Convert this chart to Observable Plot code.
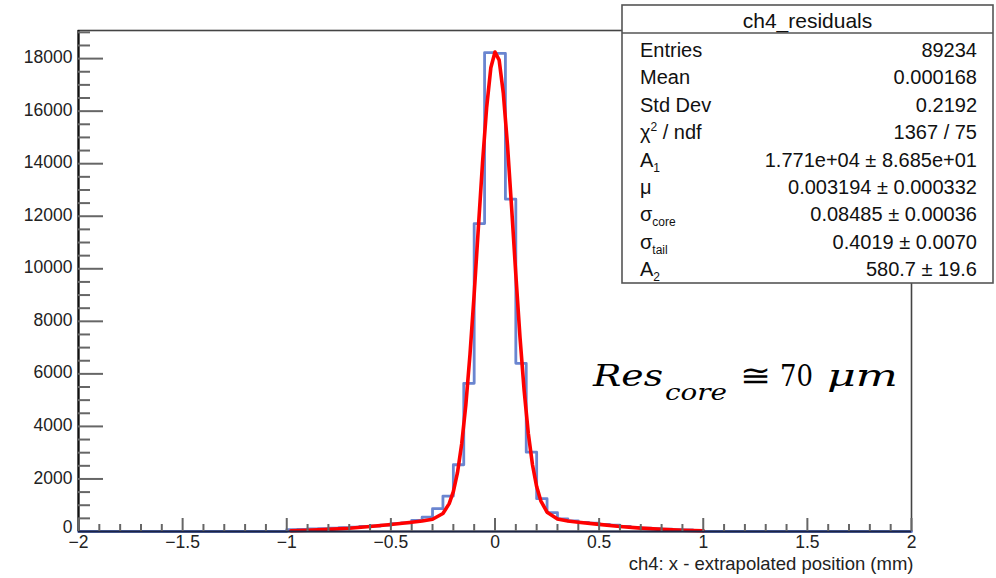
<!DOCTYPE html>
<html>
<head>
<meta charset="utf-8">
<script src="https://cdn.jsdelivr.net/npm/d3@7"></script>
<script src="https://cdn.jsdelivr.net/npm/@observablehq/plot@0.6"></script>
<style>
  html, body { margin: 0; padding: 0; background: #fff; }
  svg { display: block; }
</style>
</head>
<body>
<div id="chart"></div>
<script>
// ---- histogram: 80 bins of width 0.05 from -2 to 2 (contents)
const binLow = -2;
const binWidth = 0.05;
const histValues = [
  0,0,0,0,0,0,0,0,0,0,0,0,0,0,0,0,0,0,0,0,
  70,80,100,110,130,150,170,190,210,240,300,330,420,545,870,1350,2540,5640,11720,18230,
  18200,12650,6400,3020,1250,720,480,400,350,320,270,240,190,160,130,110,90,70,60,40,
  0,0,0,0,0,0,0,0,0,0,0,0,0,0,0,0,0,0,0,0
];

// ---- fitted curve points
const fitX = [-0.98,-0.9,-0.8,-0.7,-0.6,-0.5,-0.4,-0.35,-0.3,-0.25,-0.22,-0.2,-0.18,-0.16,-0.14,-0.12,-0.1,-0.08,-0.06,-0.04,-0.02,0,0.02,0.04,0.06,0.08,0.1,0.12,0.14,0.16,0.18,0.2,0.22,0.25,0.3,0.35,0.4,0.5,0.6,0.7,0.8,0.9,1.0];
const fitY = [30,47,80,125,190,265,350,400,465,685,1060,1520,2250,3330,4820,6750,9040,11550,14020,16150,17650,18250,17940,16680,14710,12300,9780,7400,5360,3730,2540,1710,1170,735,480,400,355,270,193,129,82,49,27];

// ---- axes
const xTickValues = [-2,-1.5,-1,-0.5,0,0.5,1,1.5,2];
const xTickLabels = ["−2","−1.5","−1","−0.5","0","0.5","1","1.5","2"];
const xMinorValues = [-1.9,-1.8,-1.7,-1.6,-1.4,-1.3,-1.2,-1.1,-0.9,-0.8,-0.7,-0.6,-0.4,-0.3,-0.2,-0.1,0.1,0.2,0.3,0.4,0.6,0.7,0.8,0.9,1.1,1.2,1.3,1.4,1.6,1.7,1.8,1.9];
const yTickValues = [0,2000,4000,6000,8000,10000,12000,14000,16000,18000];
const yTickLabels = ["0","2000","4000","6000","8000","10000","12000","14000","16000","18000"];
const yMinorValues = [500,1000,1500,2500,3000,3500,4500,5000,5500,6500,7000,7500,8500,9000,9500,10500,11000,11500,12500,13000,13500,14500,15000,15500,16500,17000,17500,18500,19000];
const xTitle = "ch4: x - extrapolated position (mm)";

// ---- stats box
const statsTitle = "ch4_residuals";
const statLabelMain = ["Entries","Mean","Std Dev","χ","A","μ","σ","σ","A"];
const statLabelSup  = ["","","","2","","","","",""];
const statLabelSub  = ["","","","","1","","core","tail","2"];
const statLabelTail = ["","",""," / ndf","","","","",""];
const statValues = ["89234","0.000168","0.2192","1367 / 75","1.771e+04 ± 8.685e+01","0.003194 ± 0.000332","0.08485 ± 0.00036","0.4019 ± 0.0070","580.7 ± 19.6"];

// ---- annotation
const annText = ["Res", "core", "≅", "70", "μm"];

// ---- build tables
const histPts = histValues.map((v, i) => ({x: binLow + i * binWidth, y: v}));
histPts.push({x: binLow + histValues.length * binWidth, y: histValues[histValues.length - 1]});
const fitPts = fitX.map((x, i) => ({x, y: fitY[i]}));

const W = 996, H = 578;
const mL = 78, mR = 85, mT = 30, mB = 47;
const fw = W - mL - mR, fh = H - mT - mB;
const sansFont = "'Liberation Sans', Arial, Helvetica, sans-serif";

const plot = Plot.plot({
  width: W, height: H,
  marginLeft: mL, marginRight: mR, marginTop: mT, marginBottom: mB,
  x: {domain: [-2, 2]},
  y: {domain: [0, 19070]},
  style: {fontFamily: sansFont, background: "white", color: "#222"},
  marks: [
    Plot.frame({stroke: "#444", strokeWidth: 1.6}),
    Plot.line(histPts, {x: "x", y: "y", curve: "step-after", stroke: "#5070c8", strokeWidth: 2.8, strokeOpacity: 0.85}),
    Plot.line(fitPts, {x: "x", y: "y", stroke: "#ff0000", strokeWidth: 3.6}),
    Plot.ruleX([-2], {stroke: "#111", strokeWidth: 2.2}),
    Plot.ruleY([0], {stroke: "#1c2444", strokeWidth: 2.2}),
    Plot.tickY(yTickValues.slice(1), {y: d => d, insetRight: fw - 25, stroke: "#666", strokeWidth: 2}),
    Plot.tickY(yMinorValues, {y: d => d, insetRight: fw - 12, stroke: "#666", strokeWidth: 2}),
    Plot.tickX(xTickValues, {x: d => d, insetTop: fh - 13, stroke: "#666", strokeWidth: 2}),
    Plot.tickX(xMinorValues, {x: d => d, insetTop: fh - 7, stroke: "#666", strokeWidth: 2}),
    Plot.axisY(yTickValues.slice(1), {tickSize: 0, tickPadding: 6, fontSize: 17.5, dy: -1, tickFormat: (d, i) => yTickLabels[i + 1], label: null, fill: "#222"}),
    Plot.axisY(yTickValues.slice(0, 1), {tickSize: 0, tickPadding: 6, fontSize: 17.5, dy: -4, tickFormat: () => yTickLabels[0], label: null, fill: "#222"}),
    Plot.axisX(xTickValues, {tickSize: 0, tickPadding: 4, fontSize: 17.5, tickFormat: (d, i) => xTickLabels[i], label: null, fill: "#222"}),
    Plot.text([xTitle], {frameAnchor: "bottom-right", text: d => d, dy: 38, dx: 2, textAnchor: "end", fontSize: 18.5, fill: "#222"})
  ]
});

document.getElementById("chart").appendChild(plot);

// ---- stats box overlay
const svg = d3.select(plot);
const g = svg.append("g").attr("font-family", sansFont).attr("fill", "#111").attr("text-anchor", "start");
const bx = 622, by = 5, bw = 371, bh = 278;
g.append("rect").attr("x", bx).attr("y", by).attr("width", bw).attr("height", bh)
  .attr("fill", "white").attr("stroke", "#555").attr("stroke-width", 1.6);
g.append("line").attr("x1", bx).attr("x2", bx + bw).attr("y1", 33).attr("y2", 33)
  .attr("stroke", "#555").attr("stroke-width", 1.6);
g.append("text").attr("x", bx + bw / 2).attr("y", 28).attr("text-anchor", "middle")
  .attr("font-size", 21).text(statsTitle);

const rowY0 = 50, rowStep = 27.4;
statLabelMain.forEach((lab, i) => {
  const cy = rowY0 + i * rowStep + 7;
  const t = g.append("text").attr("x", 640).attr("y", cy).attr("font-size", 20).attr("text-anchor", "start");
  t.append("tspan").text(lab);
  if (statLabelSup[i]) t.append("tspan").attr("font-size", 12).attr("dy", -8).text(statLabelSup[i]);
  if (statLabelSub[i]) t.append("tspan").attr("font-size", 12).attr("dy", 5).text(statLabelSub[i]);
  if (statLabelTail[i]) t.append("tspan").attr("dy", statLabelSup[i] ? 8 : 0).text(statLabelTail[i]);
  g.append("text").attr("x", 977).attr("y", cy).attr("text-anchor", "end").attr("font-size", 20).text(statValues[i]);
});

// ---- resolution annotation
const ann = svg.append("g").attr("font-family", "'DejaVu Serif', 'Liberation Serif', serif").attr("fill", "#000").attr("text-anchor", "start");
const annLayout = [
  {x: 593, y: 386, size: 30, italic: true, len: 70},
  {x: 665, y: 400, size: 22, italic: true, len: 62},
  {x: 740, y: 386, size: 30, italic: false, len: 31},
  {x: 780, y: 386, size: 30, italic: false, len: 33},
  {x: 827, y: 386, size: 30, italic: true, len: 71}
];
annLayout.forEach((p, i) => {
  ann.append("text").attr("x", p.x).attr("y", p.y).attr("font-size", p.size)
    .attr("text-anchor", "start")
    .attr("font-style", p.italic ? "italic" : "normal")
    .attr("textLength", p.len).attr("lengthAdjust", "spacingAndGlyphs")
    .text(annText[i]);
});
</script>
</body>
</html>
